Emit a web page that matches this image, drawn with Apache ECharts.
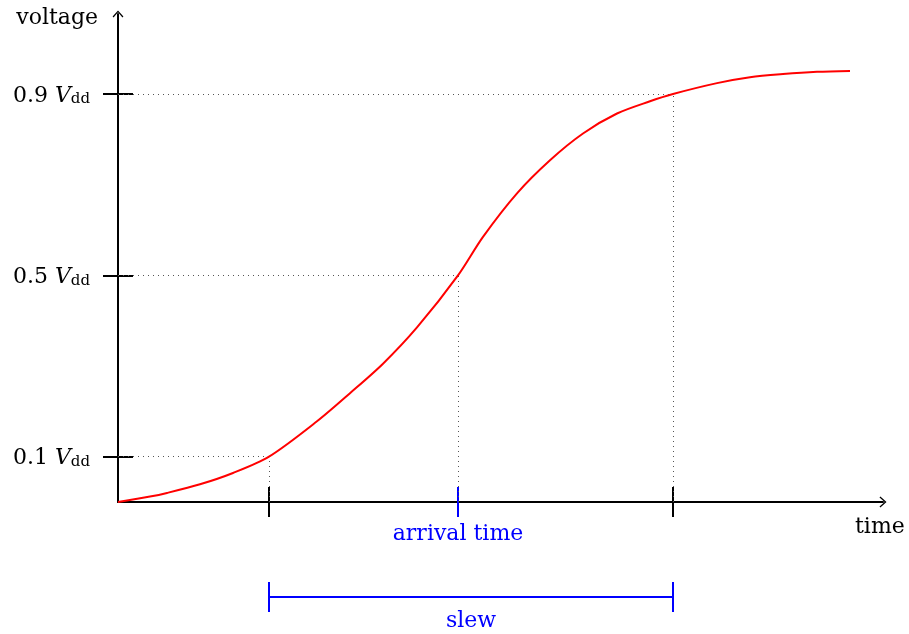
<!DOCTYPE html>
<html>
<head>
<meta charset="utf-8">
<title>slew</title>
<script src="https://cdn.jsdelivr.net/npm/echarts@6/dist/echarts.min.js"></script>
<style>
html, body { margin: 0; padding: 0; background: #fff; }
#chart { width: 909px; height: 634px; }
</style>
</head>
<body>
<div id="chart"></div>
<script>
// curve (time in arbitrary units, voltage as fraction of Vdd)
const timeVals = [0, 0.32, 0.49, 0.82, 1.15, 1.51, 1.99, 2.32, 2.65, 2.99, 3.40, 3.65, 3.99, 4.32, 4.65, 4.99, 5.32, 5.55, 5.99, 6.32, 6.65, 6.99, 7.32]
const voltVals = [0, 0.012, 0.020, 0.039, 0.064, 0.100, 0.178, 0.240, 0.305, 0.385, 0.500, 0.585, 0.681, 0.754, 0.813, 0.857, 0.884, 0.900, 0.924, 0.937, 0.944, 0.949, 0.951]
const levels = [0.1, 0.5, 0.9]
const crossTimes = [1.51, 3.40, 5.55] // where the curve passes each level
const arrivalTime = crossTimes[1]
const slewSpan = [crossTimes[0], crossTimes[2]]
const timeMax = 7.65
const voltMax = 1.0765

const font = 'DejaVu Serif'
const black = '#000'
const blue = '#0000ff'
// open arrow head, pointing up
const arrowHead = 'path://M0,6.2 L5.5,0 L11,6.2 L10,7.1 L5.5,1.9 L1,7.1 Z'

let chart = echarts.init(document.getElementById('chart'))

// dotted guides from the axes to the curve
let guides = []
levels.forEach((v, i) => {
  guides.push([{ coord: [0, v] }, { coord: [crossTimes[i], v] }])
  guides.push([{ coord: [crossTimes[i], 0] }, { coord: [crossTimes[i], v] }])
})

// extra x axes that only carry ticks (for ticks crossing the axis line)
function tickAxis (vals, color, inside) {
  return {
    type: 'value',
    gridIndex: 0,
    position: 'bottom',
    min: 0,
    max: timeMax,
    axisLine: { show: false },
    axisTick: { show: true, customValues: vals, inside: inside, length: 15, lineStyle: { color: color, width: 2 } },
    axisLabel: { show: false },
    splitLine: { show: false }
  }
}

chart.setOption({
  animation: false,
  backgroundColor: '#fff',
  grid: [
    { left: 118, right: 26, top: 14, bottom: 132, containLabel: false, outerBoundsMode: 'none' },
    { left: 118, right: 26, top: 582, height: 30, containLabel: false, outerBoundsMode: 'none' }
  ],
  xAxis: [
    {
      type: 'value',
      gridIndex: 0,
      position: 'bottom',
      min: 0,
      max: timeMax,
      name: 'time',
      nameLocation: 'end',
      nameGap: -28,
      nameTextStyle: { fontFamily: font, fontSize: 22, color: black, align: 'left', verticalAlign: 'top', padding: [14, 0, 0, 0] },
      axisLine: { show: true, symbol: ['none', arrowHead], symbolSize: [11, 7], lineStyle: { color: black, width: 2 } },
      axisTick: { show: true, customValues: slewSpan, inside: false, length: 15, lineStyle: { color: black, width: 2 } },
      axisLabel: {
        show: true,
        customValues: [arrivalTime],
        formatter: () => 'arrival time',
        margin: 21,
        fontFamily: font,
        fontSize: 22,
        color: blue
      },
      splitLine: { show: false }
    },
    tickAxis(slewSpan, black, true),
    tickAxis([arrivalTime], blue, false),
    tickAxis([arrivalTime], blue, true),
    { type: 'value', gridIndex: 1, min: 0, max: timeMax, show: false }
  ],
  yAxis: [
    {
      type: 'value',
      gridIndex: 0,
      position: 'left',
      min: 0,
      max: voltMax,
      name: 'voltage',
      nameLocation: 'end',
      nameGap: -4,
      nameTextStyle: { fontFamily: font, fontSize: 22, color: black, align: 'right', verticalAlign: 'middle', padding: [0, 20, 0, 0] },
      axisLine: { show: true, symbol: ['none', arrowHead], symbolSize: [11, 7], lineStyle: { color: black, width: 2 } },
      axisTick: { show: true, customValues: levels, inside: false, length: 15, lineStyle: { color: black, width: 2 } },
      axisLabel: {
        show: true,
        customValues: levels,
        margin: 28,
        formatter: v => '{n|' + v.toFixed(1) + ' }{v|V}{s|dd}',
        rich: {
          n: { fontFamily: font, fontSize: 22, color: black, lineHeight: 26, verticalAlign: 'bottom' },
          v: { fontFamily: font, fontSize: 22, fontStyle: 'italic', color: black, lineHeight: 26, verticalAlign: 'bottom' },
          s: { fontFamily: font, fontSize: 15, color: black, lineHeight: 14, verticalAlign: 'bottom' }
        }
      },
      splitLine: { show: false }
    },
    {
      type: 'value',
      gridIndex: 0,
      position: 'left',
      offset: 0,
      min: 0,
      max: voltMax,
      axisLine: { show: false },
      axisTick: { show: true, customValues: levels, inside: true, length: 15, lineStyle: { color: black, width: 2 } },
      axisLabel: { show: false },
      splitLine: { show: false }
    },
    { type: 'value', gridIndex: 1, min: -1, max: 1, show: false }
  ],
  series: [
    {
      type: 'line',
      xAxisIndex: 0,
      yAxisIndex: 0,
      data: timeVals.map((t, i) => [t, voltVals[i]]),
      showSymbol: false,
      smooth: 0.3,
      lineStyle: { color: '#ff0000', width: 2 },
      z: 6,
      markLine: {
        silent: true,
        z: 1,
        symbol: 'none',
        label: { show: false },
        lineStyle: { color: '#555', width: 1, type: [1, 4] },
        data: guides
      }
    },
    {
      // slew bracket under the axis
      type: 'line',
      xAxisIndex: 4,
      yAxisIndex: 2,
      data: slewSpan.map(t => [t, 0]),
      showSymbol: false,
      lineStyle: { color: blue, width: 2 },
      markLine: {
        silent: true,
        symbol: 'none',
        label: { show: false },
        lineStyle: { color: blue, width: 2, type: 'solid' },
        data: [
          { xAxis: slewSpan[0] },
          { xAxis: slewSpan[1] },
          [
            {
              coord: [slewSpan[0], 0],
              label: { show: true, formatter: 'slew', position: 'insideMiddleBottom', distance: 13, fontFamily: font, fontSize: 22, color: blue }
            },
            { coord: [slewSpan[1], 0] }
          ]
        ]
      }
    }
  ]
})
</script>
</body>
</html>
